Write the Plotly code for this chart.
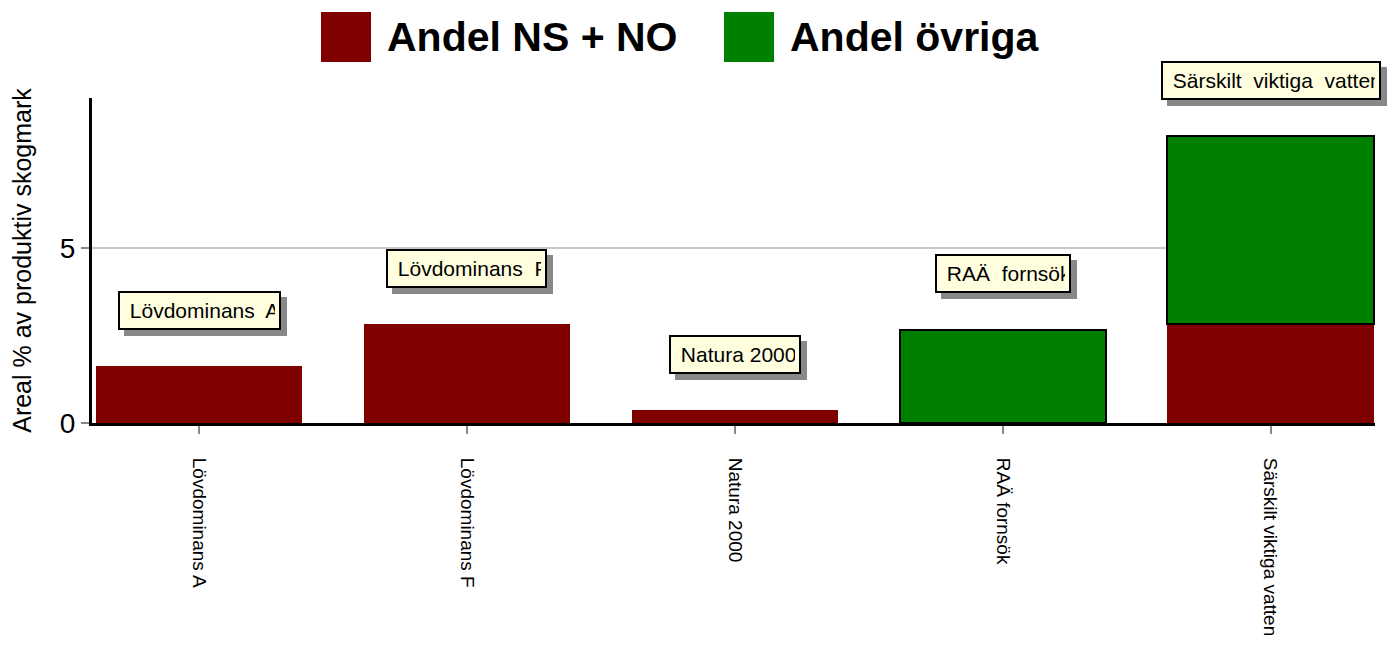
import plotly.graph_objects as go

categories = ["Lövdominans A", "Lövdominans F", "Natura 2000", "RAÄ fornsök", "Särskilt viktiga vatten"]
andel_ns_no = [1.63, 2.83, 0.37, None, 2.83]
andel_ovriga = [None, None, None, 2.66, 5.37]
box_labels = [" Lövdominans  A", " Lövdominans  F", " Natura 2000", " RAÄ  fornsök", " Särskilt  viktiga  vatten"]
box_widths = [151, 149, 120, 124, 208]
legend_names = ["Andel NS + NO", "Andel övriga"]

RED = "#800000"
GREEN = "#008000"
FONT = "Liberation Sans, Arial, sans-serif"

L, R, T, B = 92, 14, 98, 225
W, H = 1389, 648
PW, PH = W - L - R, H - T - B
YMAX = 9.29

x = list(range(len(categories)))
fig = go.Figure()
fig.add_trace(go.Bar(x=x, y=andel_ns_no, name=legend_names[0], marker=dict(color=RED, line=dict(width=0)),
                     width=0.77, showlegend=False))
fig.add_trace(go.Bar(x=x, y=andel_ovriga, name=legend_names[1], marker=dict(color=GREEN, line=dict(color="black", width=2)),
                     width=0.77, showlegend=False))

offset = 1.6
for i, (lab, w) in enumerate(zip(box_labels, box_widths)):
    total = (andel_ns_no[i] or 0) + (andel_ovriga[i] or 0)
    yp = (total + offset) / YMAX
    # shadow
    fig.add_annotation(x=i, y=yp, xref="x", yref="paper", xanchor="center", yanchor="middle",
                       text=" ", showarrow=False,
                       width=w, height=27, bgcolor="#888888", borderwidth=2, bordercolor="#888888",
                       borderpad=4, xshift=6, yshift=-6, font=dict(size=21, family=FONT))
    fig.add_annotation(x=i, y=yp, xref="x", yref="paper", xanchor="center", yanchor="middle",
                       text=lab, showarrow=False,
                       width=w, height=27, align="left", bgcolor="#FFFFE0", borderwidth=2, bordercolor="black",
                       borderpad=4, font=dict(size=21, family=FONT, color="black"))

# custom legend (pixel positions converted to paper coordinates)
legend_colors = [RED, GREEN]
legend_x0 = [321, 724]
for name, col, x0 in zip(legend_names, legend_colors, legend_x0):
    fig.add_shape(type="rect", xref="paper", yref="paper",
                  x0=(x0 - L) / PW, x1=(x0 + 50 - L) / PW,
                  y0=(H - B - 62) / PH, y1=(H - B - 12) / PH,
                  fillcolor=col, line=dict(width=0), layer="above")
    fig.add_annotation(xref="paper", yref="paper", x=(x0 + 64 - L) / PW, y=(H - B - 37) / PH,
                       xanchor="left", yanchor="middle", text="<b>" + name + "</b>", showarrow=False,
                       font=dict(size=41, family=FONT, color="black"))

fig.update_layout(
    width=W, height=H,
    margin=dict(l=L, r=R, t=T, b=B, autoexpand=False),
    plot_bgcolor="white", paper_bgcolor="white",
    barmode="stack",
    font=dict(family=FONT, color="black"),
    xaxis=dict(range=[-0.40, 4.39], tickmode="array", tickvals=x, ticktext=categories,
               tickangle=90, tickfont=dict(size=19, family=FONT), automargin=False, ticklabelstandoff=20,
               showline=True, linecolor="black", linewidth=3, ticks="outside", tickcolor="#888888",
               ticklen=8, tickwidth=2, showgrid=False, zeroline=False),
    yaxis=dict(range=[0, YMAX], tickvals=[0, 5], tickfont=dict(size=28, family=FONT), automargin=False,
               showline=True, linecolor="black", linewidth=3, ticks="outside", tickcolor="#888888",
               ticklen=8, tickwidth=2, showgrid=True, gridcolor="#c8c8c8", gridwidth=1.5, zeroline=False,
               title=dict(text="Areal % av produktiv skogmark", font=dict(size=25, family=FONT), standoff=22)),
)
fig.write_html("out.html", config={"displayModeBar": False},
               post_script="document.body.style.margin='0';")
